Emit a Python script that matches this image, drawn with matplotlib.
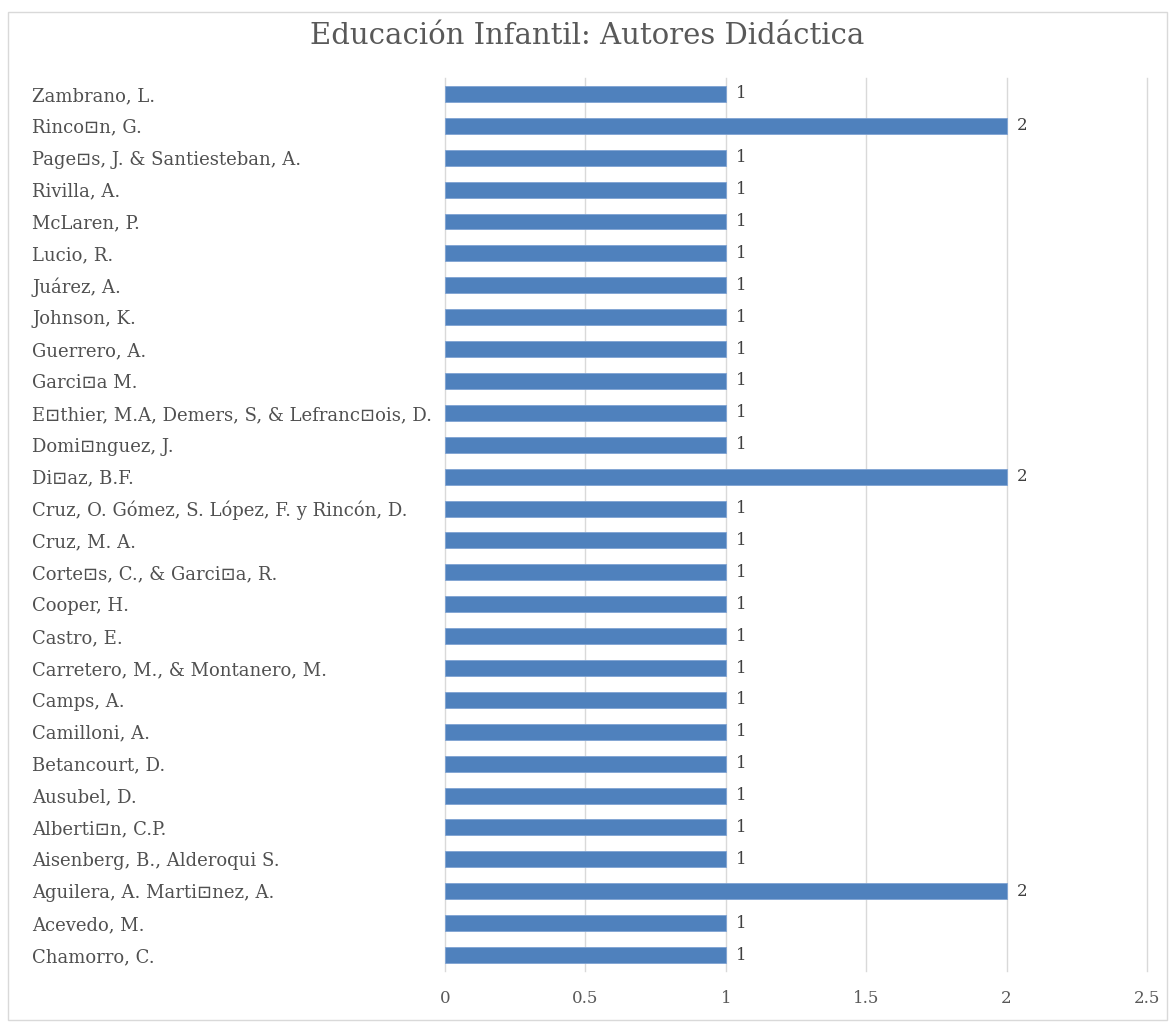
import matplotlib.pyplot as plt
from matplotlib.patches import Rectangle

B = "\u22a1"  # caracter que no se muestra en la fuente original

# autores, de abajo hacia arriba
autores = [
    "Chamorro, C.",
    "Acevedo, M.",
    "Aguilera, A. Marti" + B + "nez, A.",
    "Aisenberg, B., Alderoqui S.",
    "Alberti" + B + "n, C.P.",
    "Ausubel, D.",
    "Betancourt, D.",
    "Camilloni, A.",
    "Camps, A.",
    "Carretero, M., & Montanero, M.",
    "Castro, E.",
    "Cooper, H.",
    "Corte" + B + "s, C., & Garci" + B + "a, R.",
    "Cruz, M. A.",
    "Cruz, O. Gómez, S. López, F. y Rincón, D.",
    "Di" + B + "az, B.F.",
    "Domi" + B + "nguez, J.",
    "E" + B + "thier, M.A, Demers, S, & Lefranc" + B + "ois, D.",
    "Garci" + B + "a M.",
    "Guerrero, A.",
    "Johnson, K.",
    "Juárez, A.",
    "Lucio, R.",
    "McLaren, P.",
    "Rivilla, A.",
    "Page" + B + "s, J. & Santiesteban, A.",
    "Rinco" + B + "n, G.",
    "Zambrano, L.",
]
valores = [1, 1, 2, 1, 1, 1, 1, 1, 1, 1, 1, 1, 1, 1, 1, 2, 1, 1, 1, 1, 1, 1, 1, 1, 1, 1, 2, 1]
ticks_x = [0, 0.5, 1, 1.5, 2, 2.5]

gris = "#595959"
azul = "#4F81BD"
plt.rcParams["font.family"] = ["DejaVu Serif"]

fig = plt.figure(figsize=(11.75, 10.25), dpi=100)
# marco del grafico
fig.patches.append(Rectangle((0.007, 0.005), 0.986, 0.983, transform=fig.transFigure,
                             fill=False, edgecolor="#D9D9D9", linewidth=1))

ax = fig.add_axes([0.3787, 0.0527, 0.5975, 0.8712])
y = list(range(len(autores)))
ax.barh(y, valores, height=0.5, color=azul, edgecolor="#7FA3D3", linewidth=0.6, zorder=3)

for yi, v in zip(y, valores):
    ax.text(v + 0.035, yi, str(v), va="center", ha="left", fontsize=12, color="#404040")

ax.set_xlim(0, 2.5)
ax.set_ylim(-0.5, len(autores) - 0.5)
ax.set_xticks(ticks_x)
ax.set_xticklabels([str(t) for t in ticks_x], fontsize=12, color=gris)
ax.set_yticks(y)
ax.set_yticklabels(autores, fontsize=13, color="#505050", ha="left")
ax.tick_params(axis="y", length=0, pad=297)
ax.tick_params(axis="x", length=0, pad=14)
for t in ticks_x:
    ax.axvline(t, color="#D9D9D9", linewidth=1, zorder=0, clip_on=False)
for s in ax.spines.values():
    s.set_visible(False)

fig.text(0.5, 0.965, "Educación Infantil: Autores Didáctica", ha="center", va="center",
         fontsize=21, color=gris)

fig.savefig("out.png", dpi=100)
